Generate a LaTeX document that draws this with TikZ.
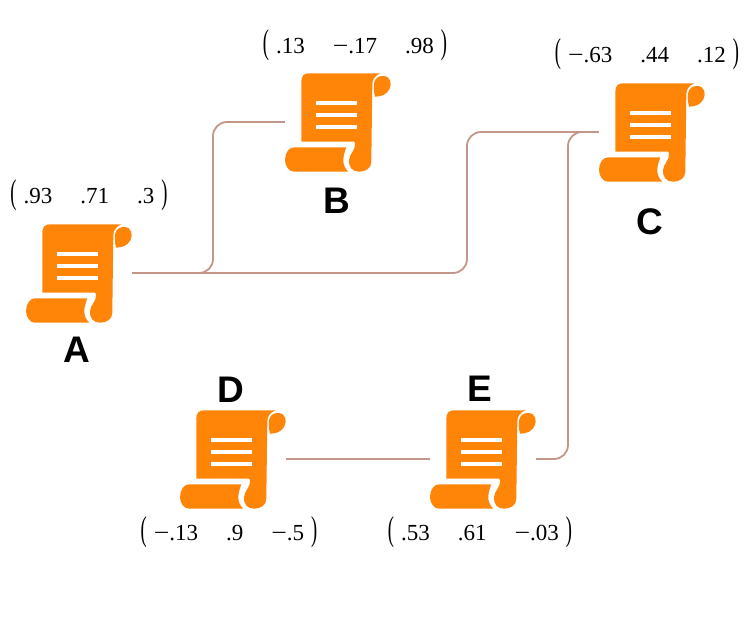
\documentclass[tikz,border=0pt]{standalone}
\usepackage{fontspec}
\setmainfont{Liberation Serif}
\setsansfont{Liberation Sans}
\definecolor{scrollorange}{HTML}{FF8508}
\definecolor{wirecolor}{HTML}{C4968A}
\newcommand{\vect}[3]{\scalebox{.8}[1.5]{(}\hspace{7pt}#1\hspace{28pt}#2\hspace{28pt}#3\hspace{7pt}\scalebox{.8}[1.5]{)}}
\newcommand{\neglong}{\scalebox{1.2}[1]{−}}
\tikzset{
  x=1pt, y=-1pt,
  scrollnode/.style={minimum width=106pt, minimum height=100pt, inner sep=0pt},
  vectext/.style={anchor=base, inner sep=0pt, font=\fontsize{23}{26}\selectfont},
  letterlabel/.style={anchor=base, inner sep=0pt, font=\fontsize{37}{40}\selectfont\sffamily\bfseries},
  wire/.style={wirecolor, line width=1.8pt, rounded corners=14pt},
  pics/scroll/.style={code={
    % sheet
    \fill[scrollorange] (-34.7,19.7) -- (-34.7,-40.3) .. controls (-34.7,-46) and (-32,-48.7) .. (-27,-48.7)
      -- (44.7,-48.7) .. controls (38,-46) and (36.3,-42) .. (36.3,-37) -- (35.3,39.7)
      .. controls (35.3,46.3) and (29.7,49.7) .. (23,49.7) .. controls (16.3,49.7) and (12.3,44.7) .. (13,38)
      .. controls (13.7,31.3) and (19.7,28) .. (19,22) .. controls (18.8,20.5) and (18.4,19.7) .. (18,19.7) -- cycle;
    % roll
    \fill[scrollorange] (-42,25.3) -- (10.3,25.3) .. controls (8,32) and (4,42) .. (12.3,49.7) -- (-42,49.7)
      .. controls (-47,49.7) and (-51,44) .. (-51,38) .. controls (-51,31) and (-47,25.3) .. (-42,25.3) -- cycle;
    % corner tab
    \fill[scrollorange] (39,-25.3) .. controls (36.5,-36) and (37,-46) .. (47,-46)
      .. controls (55,-46) and (56,-38) .. (53.5,-33) .. controls (51,-28) and (46,-25.3) .. (39,-25.3) -- cycle;
    % text lines
    \foreach \liney in {-19,-7,5}
      \draw[white, line width=4pt] (-20,\liney) -- (20.7,\liney);
  }}
}
\begin{document}
\begin{tikzpicture}
  \useasboundingbox (0,0) rectangle (746,618);

  % Scrolls
  \foreach \name/\x/\y in {A/79/273, B/338/122, C/652/132, D/233/459, E/483/459}{
    \node[scrollnode] (\name) at (\x,\y) {};
    \pic at ([xshift=-2pt]\name.center) {scroll};
  }

  % Letters
  \node[letterlabel] (labA) at (77,362) {A};
  \node[letterlabel] (labB) at (337,213) {B};
  \node[letterlabel] (labC) at (650,234) {C};
  \node[letterlabel] (labD) at (231,402) {D};
  \node[letterlabel] (labE) at (480,401) {E};

  % Vectors
  \node[vectext] (vecA) at (89,203) {\vect{.93}{.71}{.3}};
  \node[vectext] (vecB) at (355,53) {\vect{.13}{\neglong.17}{.98}};
  \node[vectext] (vecC) at (647,63) {\vect{\neglong.63}{.44}{.12}};
  \node[vectext] (vecD) at (229,540) {\vect{\neglong.13}{.9}{\neglong.5}};
  \node[vectext] (vecE) at (480,540) {\vect{.53}{.61}{\neglong.03}};

  % Turning points
  \coordinate (turnAB) at (213,200);
  \coordinate (turnAC) at (467,200);
  \coordinate (turnCE) at (568,300);

  % Connectors
  \draw[wire] (A.east) -| (turnAB) |- (B.west);
  \draw[wire] (A.east) -| (turnAC) |- (C.west);
  \draw[wire] (C.west) -| (turnCE) |- (E.east);
  \draw[wire] (D.east) -- (E.west);
\end{tikzpicture}
\end{document}
